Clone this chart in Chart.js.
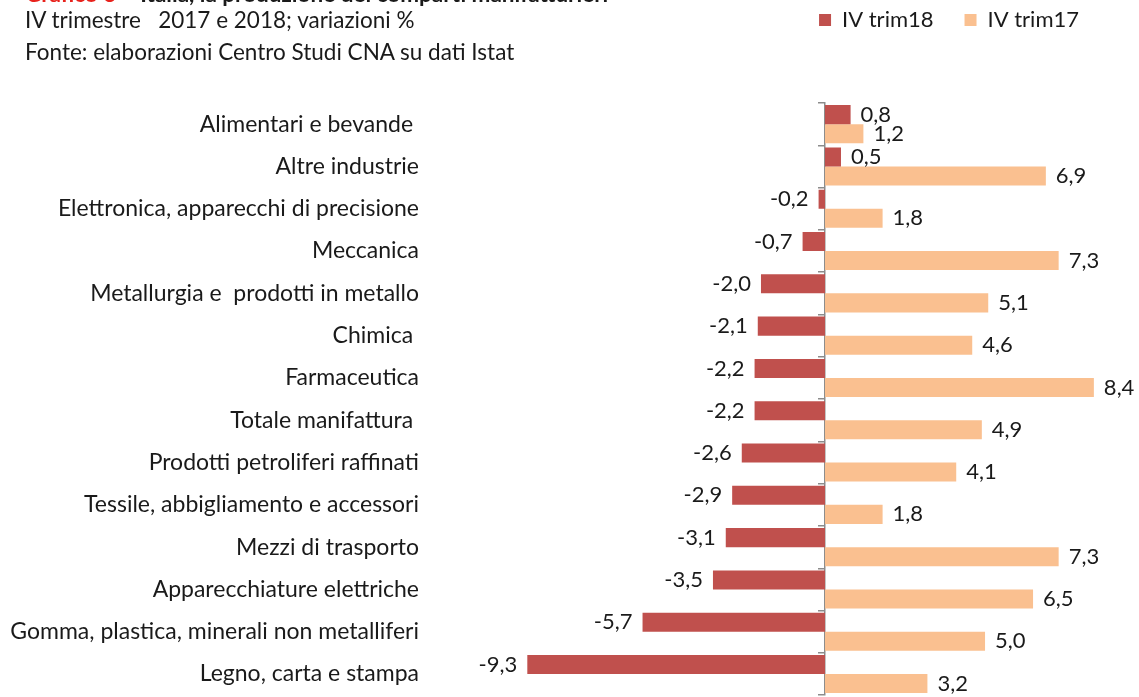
<!DOCTYPE html>
<html><head><meta charset="utf-8">
<script src="https://cdn.jsdelivr.net/npm/chart.js@4.4.1/dist/chart.umd.min.js"></script>
<style>
html,body{margin:0;padding:0;background:#fff;overflow:hidden;}
#wrap{position:relative;width:1139px;height:720px;}
canvas{display:block;}
.hdr{position:absolute;left:25px;font-family:Lato,sans-serif;font-size:22.5px;color:#1a1a1a;white-space:pre;line-height:22px;}
</style></head><body>
<div id="wrap">
<canvas id="c" width="1139" height="720" style="width:1139px;height:720px"></canvas>
<div class="hdr" style="top:-17px;font-weight:bold"><span style="color:#e8221c">Grafico 3 – </span>Italia, la produzione dei comparti manifatturieri</div>
<div class="hdr" style="top:9px">IV trimestre   2017 e 2018; variazioni %</div>
<div class="hdr" style="top:41px">Fonte: elaborazioni Centro Studi CNA su dati Istat</div>
</div>
<script>
const categories = ['Alimentari e bevande ', 'Altre industrie', 'Elettronica, apparecchi di precisione', 'Meccanica', 'Metallurgia e  prodotti in metallo', 'Chimica ', 'Farmaceutica', 'Totale manifattura ', 'Prodotti petroliferi raffinati', 'Tessile, abbigliamento e accessori', 'Mezzi di trasporto', 'Apparecchiature elettriche', 'Gomma, plastica, minerali non metalliferi', 'Legno, carta e stampa'];
const trim18 = [0.8, 0.5, -0.2, -0.7, -2.0, -2.1, -2.2, -2.2, -2.6, -2.9, -3.1, -3.5, -5.7, -9.3];
const trim17 = [1.2, 6.9, 1.8, 7.3, 5.1, 4.6, 8.4, 4.9, 4.1, 1.8, 7.3, 6.5, 5.0, 3.2];
const seriesNames = ['IV trim18', 'IV trim17'];

const FONT = 'Lato';
const TXT = '#1a1a1a';

const valueLabels = {
  id: 'valueLabels',
  afterDatasetsDraw(chart) {
    const ctx = chart.ctx;
    ctx.save();
    ctx.font = '22px ' + FONT;
    ctx.fillStyle = TXT;
    ctx.textBaseline = 'middle';
    chart.data.datasets.forEach((ds, i) => {
      const meta = chart.getDatasetMeta(i);
      meta.data.forEach((bar, j) => {
        const v = ds.data[j];
        const t = v.toFixed(1).replace('.', ',');
        if (v >= 0) { ctx.textAlign = 'left'; ctx.fillText(t, bar.x + 10, bar.y); }
        else { ctx.textAlign = 'right'; ctx.fillText(t, bar.x - 10, bar.y); }
      });
    });
    ctx.restore();
  }
};

const legendPlace = {
  id: 'legendPlace',
  afterInit(chart) {
    const lg = chart.legend;
    const fit = lg.fit;
    lg.fit = function () { fit.call(this); this.height = 103; };
  },
  afterLayout(chart) {
    const lg = chart.legend;
    lg.top -= 22; lg.bottom -= 22;
    lg.right -= 29;
  }
};

new Chart(document.getElementById('c'), {
  type: 'bar',
  data: {
    labels: categories,
    datasets: [
      { label: seriesNames[0], data: trim18, backgroundColor: '#C0504D', borderWidth: 0 },
      { label: seriesNames[1], data: trim17, backgroundColor: '#FAC090', borderWidth: 0 }
    ]
  },
  options: {
    indexAxis: 'y',
    responsive: false,
    animation: false,
    devicePixelRatio: 1,
    categoryPercentage: 0.9,
    barPercentage: 1.0,
    layout: { padding: { left: 0, right: 0, top: 0, bottom: 22 } },
    scales: {
      x: { display: false, min: -12.34, max: 9.81 },
      y: {
        position: 'left',
        grid: { display: false, drawTicks: false },
        border: { display: false },
        ticks: { font: { family: FONT, size: 23 }, color: TXT, padding: 11 },
        afterFit(s) { s.width = 430; }
      },
      y2: {
        type: 'category',
        labels: categories,
        position: { x: 0 },
        offset: true,
        grid: { offset: true, drawOnChartArea: false, tickLength: 6, color: '#8c8c8c', lineWidth: 1.5 },
        border: { display: true, color: '#8c8c8c', width: 1.5 },
        ticks: { display: false }
      }
    },
    plugins: {
      legend: {
        position: 'top',
        align: 'end',
        labels: { boxWidth: 12, boxHeight: 12, padding: 31, color: TXT, font: { family: FONT, size: 22 } }
      },
      tooltip: { enabled: false }
    }
  },
  plugins: [valueLabels, legendPlace]
});
</script>
</body></html>
